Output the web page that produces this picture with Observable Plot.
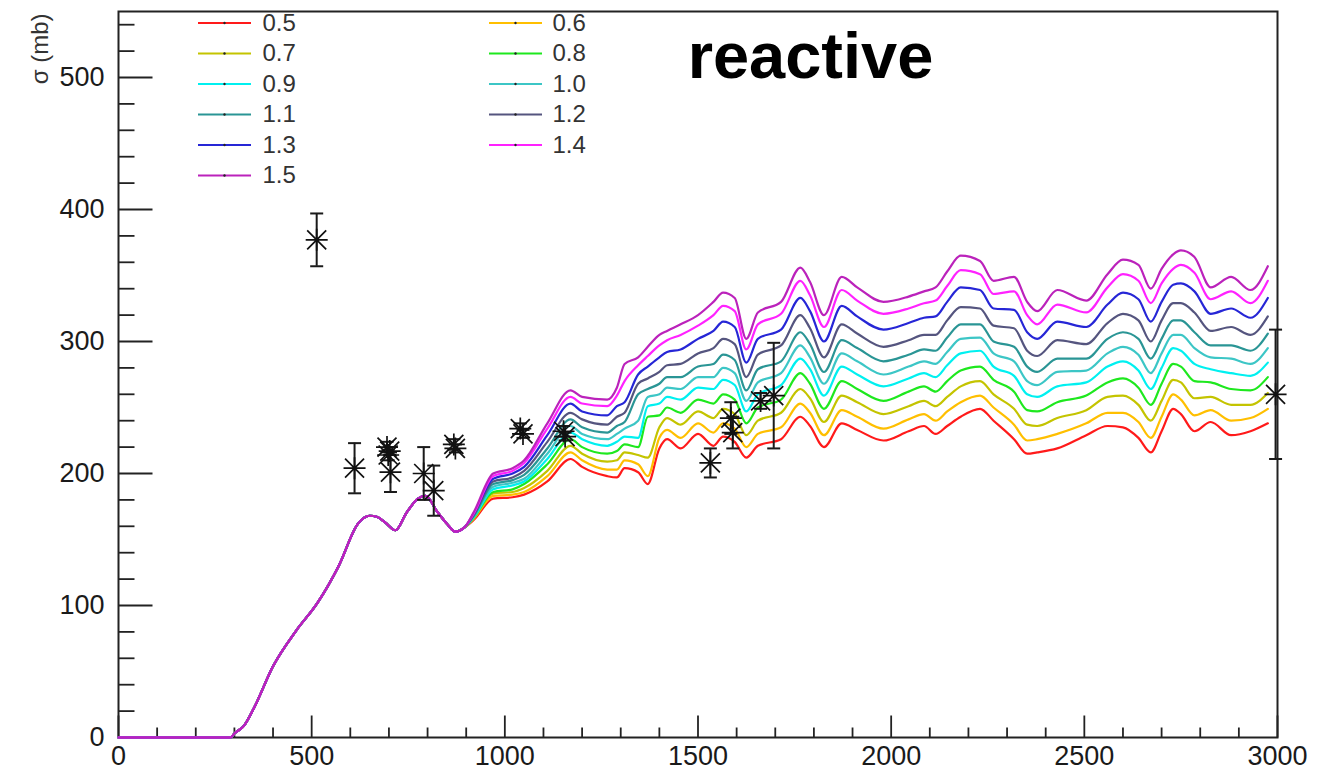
<!DOCTYPE html>
<html>
<head>
<meta charset="utf-8">
<script src="https://cdn.jsdelivr.net/npm/d3@7"></script>
<script src="https://cdn.jsdelivr.net/npm/@observablehq/plot@0.6"></script>
<style>
  html, body { margin: 0; padding: 0; background: #fff; }
  #chart { width: 1322px; height: 772px; }
</style>
</head>
<body>
<div id="chart"></div>
<script>
// ---------- data ----------
const seriesLabels = ["0.5","0.6","0.7","0.8","0.9","1.0","1.1","1.2","1.3","1.4","1.5"];
const seriesColors = ["#ff1a1a","#ffbf00","#c4c400","#1ee81e","#00f0f0","#3cc6c6","#2a9595","#55557f","#2626d6","#ff22ff","#bb22bb"];

// low-energy part: all curves coincide
const energyCommon = [0, 290, 300, 325, 350, 400, 460, 515, 570, 620, 650, 670, 690, 717, 745, 775, 795, 825, 850, 872, 895];
const sigmaCommon  = [0, 0, 3, 9, 22, 54, 81, 102, 130, 162, 168, 167, 163, 157, 170, 181, 183, 171, 162, 156, 159];

// higher energies: curves separate
const energySplit = [920, 970, 1020, 1050, 1110, 1170, 1200, 1265, 1290, 1310, 1345, 1370, 1400, 1420, 1455, 1500, 1540, 1565, 1595, 1625, 1655, 1715, 1765, 1790, 1826, 1872, 1912, 1980, 2045, 2085, 2115, 2145, 2180, 2230, 2265, 2318, 2352, 2378, 2430, 2505, 2560, 2600, 2640, 2672, 2700, 2730, 2750, 2785, 2827, 2880, 2930, 2975];

const s05 = [165,181,182,184,194,211,205,198,197,204,201,192,219,226,219,230,221,228,224,212,221,226,243,236,220,238,233,225,232,236,230,236,243,249,240,226,215,216,219,229,236,235,227,216,232,249,245,232,239,229,232,238];
const s06 = [166,183,184,186,198,216,210,203,203,210,207,198,227,233,227,238,231,238,234,220,230,235,253,246,229,248,243,234,241,245,240,247,254,259,250,237,225,226,230,238,246,246,239,227,243,260,256,244,248,240,242,249];
const s07 = [166,185,186,189,202,221,215,209,210,216,214,212,235,242,237,247,242,249,245,229,240,246,264,257,239,259,254,245,251,255,251,258,266,270,260,249,237,236,242,248,258,259,252,240,255,271,269,257,258,252,252,261];
const s08 = [167,186,188,192,207,226,220,215,217,222,220,243,244,250,246,256,253,260,256,238,250,256,276,268,249,270,264,255,262,266,262,270,278,281,271,262,248,247,254,259,269,272,265,252,268,283,281,270,269,264,263,273];
const s09 = [167,188,191,194,211,231,226,221,224,228,227,251,253,258,256,265,264,271,267,247,260,267,287,279,259,281,275,266,272,276,273,282,291,293,281,274,260,258,266,269,281,285,278,264,280,295,293,283,279,276,274,284];
const s10 = [168,190,193,196,215,236,230,226,230,234,240,258,260,265,264,273,273,280,276,255,269,276,297,288,268,291,285,275,281,285,283,292,302,303,291,285,270,267,277,278,291,296,290,276,291,305,305,295,288,287,283,295];
const s11 = [168,192,195,199,219,241,235,231,236,239,260,264,268,273,273,281,283,290,286,263,279,285,307,298,277,301,295,285,290,294,293,303,313,313,300,296,281,277,287,287,302,307,302,287,302,316,316,307,297,297,293,306];
const s12 = [169,194,197,202,224,246,241,237,243,246,268,272,277,282,283,291,295,302,298,273,290,297,320,310,288,313,306,296,301,305,305,316,326,325,312,310,293,289,301,298,314,321,316,300,316,329,329,322,308,311,305,319];
const s13 = [170,196,200,205,229,253,247,244,251,254,275,281,288,292,294,302,308,315,311,284,302,309,333,323,300,327,319,309,314,318,319,330,341,339,325,324,307,302,315,311,328,337,332,315,330,343,344,338,321,325,318,333];
const s14 = [170,198,202,208,234,258,253,251,259,270,282,289,297,301,305,312,320,327,323,294,313,321,346,335,311,339,331,321,325,329,331,342,354,351,336,338,320,313,328,322,341,351,346,329,344,355,358,352,332,338,329,346];
const s15 = [171,200,204,210,238,263,258,256,265,283,288,296,305,308,313,320,330,337,333,302,322,330,356,345,320,349,341,330,334,338,341,353,365,361,346,349,330,323,339,331,351,362,358,340,355,366,369,364,341,349,339,357];
const seriesValues = [s05, s06, s07, s08, s09, s10, s11, s12, s13, s14, s15];

// experimental points (energy, sigma, error)
const expEnergy = [513, 611, 695, 698, 702, 704, 790, 816, 868, 872, 1040, 1047, 1152, 1156, 1532, 1585, 1590, 1662, 1696, 2995];
const expSigma  = [377, 204, 220, 214, 217, 201, 200, 187, 222, 219, 234, 230, 232, 228, 208, 242, 231, 255, 259, 260];
const expError  = [20, 19, 4, 4, 3, 15, 20, 19, 4, 3, 4, 3, 4, 3, 11, 12, 12, 6, 40, 49];

// axis ticks
const xTicks = [0, 500, 1000, 1500, 2000, 2500, 3000];
const yTicks = [0, 100, 200, 300, 400, 500];
const xMinor = d3.range(100, 3000, 100).filter(v => v % 500 !== 0);
const yMinor = d3.range(20, 550, 20).filter(v => v % 100 !== 0);

// ---------- build tables ----------
const curves = seriesValues.map((vals, i) =>
  energyCommon.map((e, j) => ({e, s: sigmaCommon[j], k: seriesLabels[i]}))
    .concat(energySplit.map((e, j) => ({e, s: vals[j], k: seriesLabels[i]})))
);
const exp = expEnergy.map((e, i) => ({e, s: expSigma[i], err: expError[i]}));

// ---------- custom symbols ----------
const tickUp = len => ({draw(c) { c.moveTo(0, 0); c.lineTo(0, -len); }});
const tickRight = len => ({draw(c) { c.moveTo(0, 0); c.lineTo(len, 0); }});
const hSeg = len => ({draw(c) { c.moveTo(-len / 2, 0); c.lineTo(len / 2, 0); }});
const asterisk = {draw(c) {
  const r = 11, d = 9.5;
  c.moveTo(-r, 0); c.lineTo(r, 0);
  c.moveTo(0, -r); c.lineTo(0, r);
  c.moveTo(-d, -d); c.lineTo(d, d);
  c.moveTo(-d, d); c.lineTo(d, -d);
}};

const legendMarks = seriesLabels.flatMap((lab, i) => {
  const col = i % 2, row = Math.floor(i / 2);
  const cx = col === 0 ? 106 : 397;
  const tx = col === 0 ? 144 : 434;
  const dy = 11.5 + 30.5 * row;
  return [
    Plot.dot([lab], {frameAnchor: "top-left", dx: cx, dy, symbol: hSeg(53), stroke: seriesColors[i], strokeWidth: 2.2, fill: "none"}),
    Plot.dot([lab], {frameAnchor: "top-left", dx: cx, dy, r: 1.2, fill: "#222", stroke: "none"}),
    Plot.text([lab], {frameAnchor: "top-left", dx: tx, dy, text: d => d, textAnchor: "start", lineAnchor: "middle", fontSize: 24, fill: "#333"})
  ];
});

const chart = Plot.plot({
  width: 1322,
  height: 772,
  marginLeft: 118,
  marginRight: 45,
  marginTop: 11,
  marginBottom: 35,
  x: {domain: [0, 3000]},
  y: {domain: [0, 550]},
  style: {fontFamily: "'Liberation Sans', Arial, Helvetica, sans-serif", fontSize: "27px", color: "#1a1a1a", background: "#fff", overflow: "visible"},
  marks: [
    Plot.frame({stroke: "#222", strokeWidth: 2}),
    Plot.axisX({ticks: xTicks, tickSize: 0, tickPadding: 8, tickFormat: "d", label: null}),
    Plot.axisY({ticks: yTicks, tickSize: 0, tickPadding: 14, tickFormat: "d", label: null}),
    Plot.dot(xTicks, {x: d => d, frameAnchor: "bottom", symbol: tickUp(22), stroke: "#222", strokeWidth: 1.8, fill: "none"}),
    Plot.dot(xMinor, {x: d => d, frameAnchor: "bottom", symbol: tickUp(10), stroke: "#222", strokeWidth: 1.8, fill: "none"}),
    Plot.dot(yTicks, {y: d => d, frameAnchor: "left", symbol: tickRight(34), stroke: "#222", strokeWidth: 1.8, fill: "none"}),
    Plot.dot(yMinor, {y: d => d, frameAnchor: "left", symbol: tickRight(16), stroke: "#222", strokeWidth: 1.8, fill: "none"}),
    ...curves.map((data, i) => Plot.line(data, {x: "e", y: "s", stroke: seriesColors[i], strokeWidth: 2.2, curve: "monotone-x"})),
    Plot.ruleX(exp, {x: "e", y1: d => d.s - d.err, y2: d => d.s + d.err, stroke: "#1a1a1a", strokeWidth: 2}),
    Plot.dot(exp, {x: "e", y: d => d.s + d.err, symbol: hSeg(13), stroke: "#1a1a1a", strokeWidth: 2, fill: "none"}),
    Plot.dot(exp, {x: "e", y: d => d.s - d.err, symbol: hSeg(13), stroke: "#1a1a1a", strokeWidth: 2, fill: "none"}),
    Plot.dot(exp, {x: "e", y: "s", symbol: asterisk, stroke: "#111", strokeWidth: 1.7, fill: "none"}),
    ...legendMarks,
    Plot.text(["reactive"], {frameAnchor: "top-left", dx: 692, dy: 46, text: d => d, fontSize: 65, fontWeight: "bold", fill: "#000", textAnchor: "middle", lineAnchor: "middle"}),
    Plot.text(["σ (mb)"], {frameAnchor: "top-left", dx: -78, dy: 2, text: d => d, rotate: -90, textAnchor: "end", lineAnchor: "middle", fontSize: 24, fill: "#333"})
  ]
});
document.getElementById("chart").appendChild(chart);
</script>
</body>
</html>
